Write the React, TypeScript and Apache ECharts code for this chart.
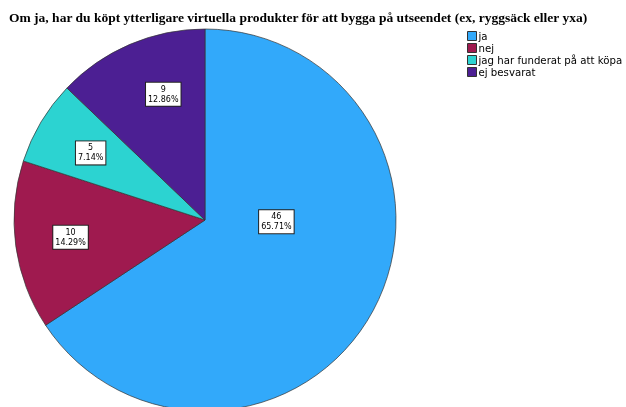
import React, { useEffect, useRef } from "react";
import * as echarts from "echarts";

const titleText =
  "Om ja, har du köpt ytterligare virtuella produkter för att bygga på utseendet (ex, ryggsäck eller yxa)";
const categories = ["ja", "nej", "jag har funderat på att köpa", "ej besvarat"];
const counts = [46, 10, 5, 9];
const percents = ["65.71%", "14.29%", "7.14%", "12.86%"];
const colors = ["#32A9FA", "#9F1A4F", "#2CD3D1", "#4C1F93"];

export default function App() {
  const ref = useRef<HTMLDivElement>(null);
  useEffect(() => {
    if (!ref.current) return;
    const chart = echarts.init(ref.current, null, { renderer: "svg" });
    const center = [205, 220];
    const R = 191;
    const labelOffsets = [[-49, -63], [1, -1], [3, 3], [12, 0]];
    const pieData = categories.map((name, i) => ({
      name,
      value: counts[i],
      itemStyle: { color: colors[i] },
    }));
    const labelData = categories.map((name, i) => ({
      name,
      value: counts[i],
      label: { offset: labelOffsets[i] },
    }));
    chart.setOption({
      animation: false,
      title: {
        text: titleText,
        left: 9,
        top: 10,
        padding: 0,
        textStyle: {
          fontFamily: "Liberation Serif",
          fontWeight: "bold",
          fontSize: 13.5,
          color: "#000",
        },
      },
      legend: {
        orient: "vertical",
        left: 467,
        top: 31,
        width: 200,
        padding: 0,
        itemWidth: 9,
        itemHeight: 9,
        itemGap: 2,
        icon: "rect",
        data: categories,
        selectedMode: false,
        itemStyle: { borderColor: "#333", borderWidth: 1 },
        textStyle: {
          fontFamily: "DejaVu Sans",
          fontSize: 10.2,
          lineHeight: 10,
          color: "#000",
          padding: [0, 0, 0, -3],
          overflow: "none",
        },
      },
      series: [
        {
          type: "pie",
          center,
          radius: R,
          startAngle: 90,
          clockwise: true,
          silent: true,
          data: pieData,
          label: { show: false },
          labelLine: { show: false },
          itemStyle: { borderColor: "#333", borderWidth: 0.7 },
        },
        {
          type: "pie",
          center,
          radius: R * 1.4,
          startAngle: 90,
          clockwise: true,
          silent: true,
          legendHoverLink: false,
          data: labelData,
          itemStyle: { color: "rgba(0,0,0,0)", borderWidth: 0 },
          labelLine: { show: false },
          label: {
            show: true,
            position: "inside",
            formatter: (p: any) => `${counts[p.dataIndex]}\n${percents[p.dataIndex]}`,
            fontFamily: "DejaVu Sans",
            fontSize: 8,
            lineHeight: 10,
            color: "#000",
            backgroundColor: "#fff",
            borderColor: "#222",
            borderWidth: 1,
            padding: [2, 2, 1, 2],
            align: "center",
          },
        },
      ],
    });
    return () => chart.dispose();
  }, []);
  return (
    <div
      ref={ref}
      style={{ width: 626, height: 407, position: "fixed", left: 0, top: 0 }}
    />
  );
}
